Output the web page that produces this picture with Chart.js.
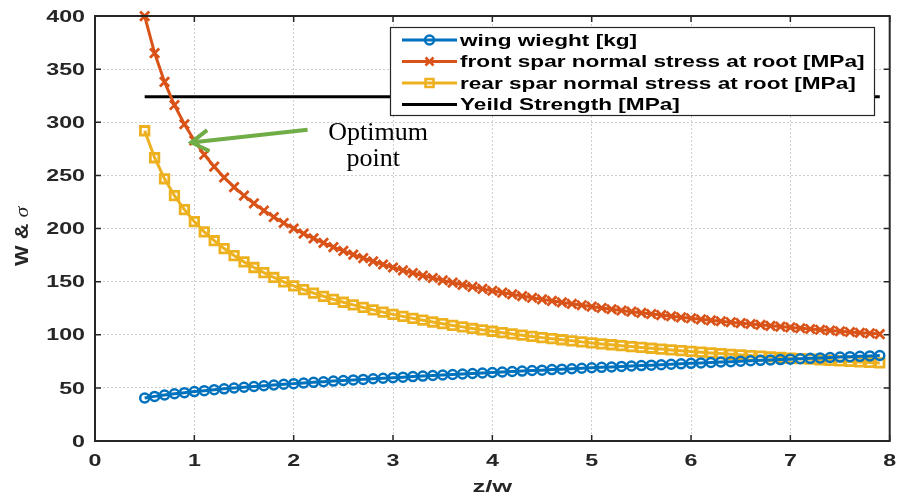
<!DOCTYPE html>
<html>
<head>
<meta charset="utf-8">
<script src="https://cdn.jsdelivr.net/npm/chart.js"></script>
<style>
  body { margin: 0; background: #fff; }
  #wrap { width: 899px; height: 495px; }
</style>
</head>
<body>
<div id="wrap"><canvas id="ratio-chart"></canvas></div>
<script>
// z/w ratio sampled every 0.1
const zw = [0.5,0.6,0.7,0.8,0.9,1.0,1.1,1.2,1.3,1.4,
            1.5,1.6,1.7,1.8,1.9,2.0,2.1,2.2,2.3,2.4,
            2.5,2.6,2.7,2.8,2.9,3.0,3.1,3.2,3.3,3.4,
            3.5,3.6,3.7,3.8,3.9,4.0,4.1,4.2,4.3,4.4,
            4.5,4.6,4.7,4.8,4.9,5.0,5.1,5.2,5.3,5.4,
            5.5,5.6,5.7,5.8,5.9,6.0,6.1,6.2,6.3,6.4,
            6.5,6.6,6.7,6.8,6.9,7.0,7.1,7.2,7.3,7.4,
            7.5,7.6,7.7,7.8,7.9];
const wingWeight = [40.5,42.0,43.3,44.5,45.5,46.5,47.4,48.3,49.1,49.9,
                    50.6,51.3,52.0,52.7,53.4,54.0,54.6,55.2,55.8,56.4,
                    56.9,57.5,58.0,58.6,59.1,59.6,60.1,60.6,61.1,61.6,
                    62.1,62.6,63.1,63.5,64.0,64.5,64.9,65.4,65.8,66.3,
                    66.7,67.2,67.6,68.0,68.5,68.9,69.3,69.7,70.2,70.6,
                    71.0,71.4,71.8,72.2,72.6,73.1,73.5,73.9,74.3,74.7,
                    75.1,75.5,75.9,76.2,76.6,77.0,77.4,77.8,78.2,78.6,
                    79.0,79.4,79.7,80.1,80.5];
const frontSpar = [399.9,365.1,338.0,316.2,298.1,282.8,269.6,258.2,248.0,239.0,
                   230.9,223.6,216.9,210.8,205.2,200.0,195.2,190.7,186.5,182.5,
                   178.9,175.4,172.1,169.0,166.1,163.3,160.6,158.1,155.7,153.4,
                   151.2,149.0,147.0,145.1,143.2,141.4,139.7,138.0,136.4,134.8,
                   133.3,131.9,130.4,129.1,127.8,126.5,125.2,124.0,122.8,121.7,
                   120.6,119.5,118.5,117.4,116.4,115.5,114.5,113.6,112.7,111.8,
                   110.9,110.1,109.3,108.4,107.7,106.9,106.1,105.4,104.7,104.0,
                   103.3,102.6,101.9,101.3,100.6];
const rearSpar = [292.0,266.6,246.8,230.9,217.7,206.5,196.9,188.5,181.1,174.5,
                  168.6,163.3,158.4,153.9,149.8,146.0,142.5,139.2,136.2,133.3,
                  130.6,128.1,125.7,123.4,121.3,119.2,117.3,115.4,113.7,112.0,
                  110.4,108.8,107.4,105.9,104.6,103.3,102.0,100.8,99.6,98.4,
                  97.3,96.3,95.3,94.3,93.3,92.3,91.4,90.6,89.7,88.9,
                  88.1,87.3,86.5,85.7,85.0,84.3,83.6,82.9,82.3,81.6,
                  81.0,80.4,79.8,79.2,78.6,78.0,77.5,77.0,76.4,75.9,
                  75.4,74.9,74.4,73.9,73.5];
const yieldX = [0.5, 7.9];
const yieldStrength = [324, 324];
const xTicks = [0,1,2,3,4,5,6,7,8];
const yTicks = [0,50,100,150,200,250,300,350,400];

// annotation (data coordinates)
const arrowFrom = {x: 2.14, y: 293};
const arrowTo = {x: 0.97, y: 281};
const noteLines = [{text: 'Optimum', x: 2.85, y: 283}, {text: 'point', x: 2.8, y: 259}];

const BLUE = '#0072bd', ORANGE = '#d95319', YELLOW = '#edb120', INK = '#262626';
const SANS = '"Liberation Sans", Arial, Helvetica, sans-serif';

const pts = (ys) => zw.map((x, i) => ({x: x, y: ys[i]}));

function stretched(ctx, txt, x, y, sx, align) {
  ctx.save();
  ctx.translate(x, y);
  ctx.scale(sx, 1);
  ctx.textAlign = align;
  ctx.fillText(txt, 0, 0);
  ctx.restore();
}

function marker(ctx, style, x, y, color) {
  ctx.save();
  ctx.strokeStyle = color;
  ctx.lineWidth = 2.5;
  ctx.beginPath();
  if (style === 'circle') {
    ctx.arc(x, y, 4.5, 0, Math.PI * 2);
  } else if (style === 'crossRot') {
    ctx.moveTo(x - 4, y - 4); ctx.lineTo(x + 4, y + 4);
    ctx.moveTo(x - 4, y + 4); ctx.lineTo(x + 4, y - 4);
  } else if (style === 'rect') {
    ctx.rect(x - 4, y - 4, 8, 8);
  }
  ctx.stroke();
  ctx.restore();
}

const annotate = {
  id: 'annotate',
  afterDatasetsDraw(chart) {
    const {ctx, scales: {x, y}} = chart;
    const x1 = x.getPixelForValue(arrowFrom.x), y1 = y.getPixelForValue(arrowFrom.y);
    const x2 = x.getPixelForValue(arrowTo.x), y2 = y.getPixelForValue(arrowTo.y);
    const ang = Math.atan2(y2 - y1, x2 - x1);
    ctx.save();
    ctx.strokeStyle = '#70ad47';
    ctx.lineWidth = 4;
    ctx.lineCap = 'butt';
    ctx.lineJoin = 'miter';
    ctx.beginPath();
    ctx.moveTo(x1, y1); ctx.lineTo(x2, y2);
    ctx.stroke();
    ctx.beginPath();
    ctx.moveTo(x2 - 20 * Math.cos(ang - 0.55), y2 - 20 * Math.sin(ang - 0.55));
    ctx.lineTo(x2, y2);
    ctx.lineTo(x2 - 20 * Math.cos(ang + 0.55), y2 - 20 * Math.sin(ang + 0.55));
    ctx.stroke();
    ctx.fillStyle = '#000';
    ctx.font = '26px "Liberation Serif", "Times New Roman", serif';
    ctx.textAlign = 'center';
    noteLines.forEach(n => ctx.fillText(n.text, x.getPixelForValue(n.x), y.getPixelForValue(n.y)));
    ctx.restore();
  }
};

const frame = {
  id: 'frame',
  afterDraw(chart) {
    const {ctx, chartArea: a, scales: {x, y}} = chart;
    ctx.save();
    ctx.strokeStyle = INK;
    ctx.lineWidth = 1.5;
    ctx.beginPath();
    xTicks.forEach(v => {
      const px = x.getPixelForValue(v);
      ctx.moveTo(px, a.bottom); ctx.lineTo(px, a.bottom - 6);
      ctx.moveTo(px, a.top); ctx.lineTo(px, a.top + 6);
    });
    yTicks.forEach(v => {
      const py = y.getPixelForValue(v);
      ctx.moveTo(a.left, py); ctx.lineTo(a.left + 6, py);
      ctx.moveTo(a.right, py); ctx.lineTo(a.right - 6, py);
    });
    ctx.stroke();
    ctx.lineWidth = 2;
    ctx.strokeRect(a.left, a.top, a.right - a.left, a.bottom - a.top);

    // tick labels
    ctx.fillStyle = INK;
    ctx.font = 'bold 16px ' + SANS;
    ctx.textBaseline = 'alphabetic';
    xTicks.forEach(v => stretched(ctx, String(v), x.getPixelForValue(v), 466, 1.45, 'center'));
    yTicks.forEach(v => stretched(ctx, String(v), 85, y.getPixelForValue(v) + 5.7, 1.45, 'right'));

    // axis titles
    ctx.font = 'bold 17px ' + SANS;
    stretched(ctx, 'z/w', (a.left + a.right) / 2, 492, 1.5, 'center');
    ctx.save();
    ctx.translate(28, 266);
    ctx.rotate(-Math.PI / 2);
    ctx.scale(1.15, 1);
    ctx.textAlign = 'left';
    ctx.font = 'bold 19px ' + SANS;
    ctx.fillText('W & ', 0, 0);
    const w = ctx.measureText('W & ').width;
    ctx.font = 'italic 19px "Liberation Serif", serif';
    ctx.fillText('σ', w, 0);
    ctx.restore();

    // legend box
    const lx = 390, ly = 27, lw = 484, lh = 88;
    ctx.fillStyle = '#fff';
    ctx.fillRect(lx, ly, lw, lh);
    ctx.lineWidth = 1.2;
    ctx.strokeStyle = INK;
    ctx.strokeRect(lx + 0.5, ly + 0.5, lw, lh);
    const rows = [40, 61.5, 83, 104.5];
    chart.data.datasets.forEach((ds, i) => {
      const ry = rows[i];
      ctx.strokeStyle = ds.borderColor;
      ctx.lineWidth = 3;
      ctx.beginPath();
      ctx.moveTo(402, ry); ctx.lineTo(457, ry);
      ctx.stroke();
      if (ds.pointRadius) marker(ctx, ds.pointStyle, 429.5, ry, ds.borderColor);
      ctx.fillStyle = '#000';
      ctx.font = 'bold 17px ' + SANS;
      ctx.textBaseline = 'middle';
      stretched(ctx, ds.label, 460, ry + 1, 1.33, 'left');
    });
    ctx.restore();
  }
};

new Chart(document.getElementById('ratio-chart'), {
  type: 'line',
  data: {
    datasets: [
      {
        label: 'wing wieght [kg]',
        data: pts(wingWeight),
        borderColor: BLUE,
        borderWidth: 3,
        pointStyle: 'circle',
        pointRadius: 4.5,
        pointBorderWidth: 2.5,
        pointBackgroundColor: 'rgba(255,255,255,0)',
        pointBorderColor: BLUE,
        clip: false
      },
      {
        label: 'front spar normal stress at root [MPa]',
        data: pts(frontSpar),
        borderColor: ORANGE,
        borderWidth: 3,
        pointStyle: 'crossRot',
        pointRadius: 6.5,
        pointBorderWidth: 2.8,
        pointBorderColor: ORANGE,
        clip: false
      },
      {
        label: 'rear spar normal stress at root [MPa]',
        data: pts(rearSpar),
        borderColor: YELLOW,
        borderWidth: 3,
        pointStyle: 'rect',
        pointRadius: 6,
        pointBorderWidth: 2.8,
        pointBackgroundColor: 'rgba(255,255,255,0)',
        pointBorderColor: YELLOW,
        clip: false
      },
      {
        label: 'Yeild Strength [MPa]',
        data: yieldX.map((x, i) => ({x: x, y: yieldStrength[i]})),
        borderColor: '#000',
        borderWidth: 3,
        pointRadius: 0
      }
    ]
  },
  options: {
    responsive: true,
    maintainAspectRatio: false,
    animation: false,
    events: [],
    layout: { padding: { top: 16, right: 9, left: 0, bottom: 0 } },
    plugins: {
      legend: { display: false },
      tooltip: { enabled: false }
    },
    scales: {
      x: {
        type: 'linear',
        min: 0,
        max: 8,
        afterBuildTicks: s => { s.ticks = xTicks.map(v => ({value: v})); },
        afterFit: s => { s.height = 54; },
        ticks: { display: false },
        grid: { color: '#cfcfcf', lineWidth: 1, drawTicks: false },
        border: { display: false, dash: [2, 2] }
      },
      y: {
        type: 'linear',
        min: 0,
        max: 400,
        afterBuildTicks: s => { s.ticks = yTicks.map(v => ({value: v})); },
        afterFit: s => { s.width = 95; },
        ticks: { display: false },
        grid: { color: '#cfcfcf', lineWidth: 1, drawTicks: false },
        border: { display: false, dash: [2, 2] }
      }
    }
  },
  plugins: [annotate, frame]
});
</script>
</body>
</html>
